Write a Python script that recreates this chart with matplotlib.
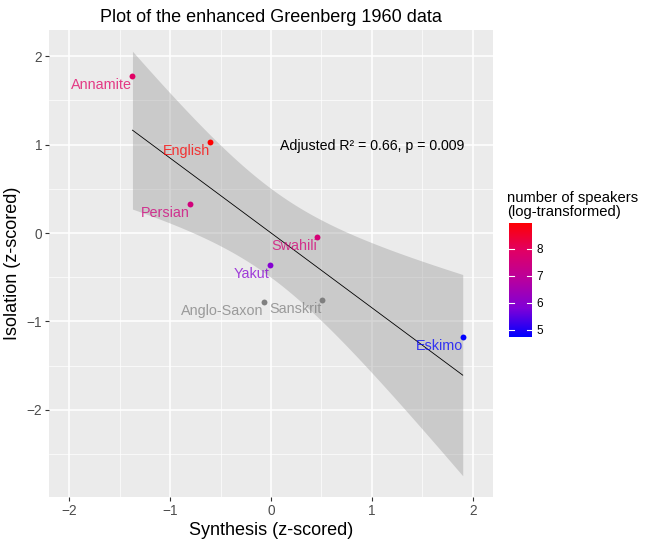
import matplotlib
matplotlib.use("Agg")
import matplotlib.pyplot as plt
import numpy as np
from matplotlib.colors import LinearSegmentedColormap, Normalize

plt.rcParams['font.family'] = ['Liberation Sans', 'DejaVu Sans']

# Data
languages = ['Annamite', 'English', 'Persian', 'Swahili', 'Yakut',
             'Anglo-Saxon', 'Sanskrit', 'Eskimo']
synthesis = np.array([-1.373, -0.607, -0.806, 0.458, -0.010, -0.070, 0.507, 1.900])
isolation = np.array([1.778, 1.030, 0.328, -0.045, -0.362, -0.780, -0.760, -1.178])
speakers_log = np.array([7.9, 8.95, 7.5, 7.6, 5.9, np.nan, np.nan, 4.74])

# blue -> red gradient (approx. Lab interpolation as in ggplot)
cmap = LinearSegmentedColormap.from_list(
    'bluered', [(0.0, '#0000FF'), (0.25, '#8000D8'), (0.5, '#B8009F'),
                (0.75, '#E10065'), (1.0, '#FF0000')])
vmin, vmax = np.nanmin(speakers_log), np.nanmax(speakers_log)
norm = Normalize(vmin, vmax)
na_color = '#7F7F7F'
colors = [na_color if np.isnan(v) else cmap(norm(v)) for v in speakers_log]

# linear fit with 95% confidence band
n = len(synthesis)
slope, intercept = np.polyfit(synthesis, isolation, 1)
resid = isolation - (intercept + slope * synthesis)
s = np.sqrt(np.sum(resid ** 2) / (n - 2))
sxx = np.sum((synthesis - synthesis.mean()) ** 2)
t_crit = 2.446912  # t(0.975, df=6)
xs = np.linspace(synthesis.min(), synthesis.max(), 80)
ys = intercept + slope * xs
half = t_crit * s * np.sqrt(1 / n + (xs - synthesis.mean()) ** 2 / sxx)

fig = plt.figure(figsize=(6.63, 5.46), dpi=100)
W, H = 663, 546
ax = fig.add_axes([49 / W, (H - 497) / H, (493 - 49) / W, (497 - 30) / H])
ax.set_facecolor('#EBEBEB')

ax.fill_between(xs, ys - half, ys + half, color='#999999', alpha=0.4, lw=0, zorder=2)
ax.plot(xs, ys, color='black', lw=0.6, zorder=3)

for x, y, c, lab in zip(synthesis, isolation, colors, languages):
    ax.scatter(x, y, s=18, color=c, zorder=4, lw=0)
    ax.annotate(lab, (x, y), xytext=(0, -1.5), textcoords='offset points',
                color=c, alpha=0.75, ha='right', va='top',
                fontsize=10.4, zorder=5)

ax.text(1.0, 0.98, 'Adjusted R² = 0.66, p = 0.009', ha='center', va='center',
        fontsize=10.2, color='black', zorder=5)

ax.set_xlim(-2.2, 2.2)
lo, hi = (ys - half).min(), (ys + half).max()
pad = 0.05 * (hi - lo)
ax.set_ylim(lo - pad, hi + pad)

ax.set_xticks([-2, -1, 0, 1, 2])
ax.set_yticks([-2, -1, 0, 1, 2])
ax.set_xticks([-1.5, -0.5, 0.5, 1.5], minor=True)
ax.set_yticks([-2.5, -1.5, -0.5, 0.5, 1.5], minor=True)
ax.grid(True, which='major', color='white', lw=1.1, zorder=0)
ax.grid(True, which='minor', color='white', lw=0.5, zorder=0)
ax.set_axisbelow(True)
for sp in ax.spines.values():
    sp.set_visible(False)
ax.tick_params(which='major', length=3, width=0.8, color='#333333',
               labelsize=9.8, labelcolor='#4D4D4D', pad=2)
ax.tick_params(which='minor', length=0)

ax.set_xlabel('Synthesis (z-scored)', fontsize=13, labelpad=3)
ax.set_ylabel('Isolation (z-scored)', fontsize=13, labelpad=4)
ax.set_title('Plot of the enhanced Greenberg 1960 data', fontsize=13, pad=6)

# colour bar legend
cax = fig.add_axes([509 / W, (H - 337) / H, (532 - 509) / W, (337 - 223) / H])
grad = np.linspace(vmin, vmax, 256).reshape(-1, 1)
cax.imshow(grad, cmap=cmap, norm=norm, aspect='auto', origin='lower',
           extent=[0, 1, vmin, vmax])
cax.set_xlim(0, 1)
cax.set_ylim(vmin, vmax)
cb_ticks = [5, 6, 7, 8]
for t in cb_ticks:
    cax.plot([0, 0.2], [t, t], color='white', lw=0.8)
    cax.plot([0.8, 1], [t, t], color='white', lw=0.8)
cax.set_xticks([])
cax.set_yticks(cb_ticks)
cax.yaxis.tick_right()
cax.tick_params(axis='y', length=0, labelsize=8.5, pad=3)
for sp in cax.spines.values():
    sp.set_visible(False)
fig.text(507 / W, 1 - 205 / H, 'number of speakers\n(log-transformed)',
         fontsize=10.6, ha='left', va='center', linespacing=0.95)

fig.savefig('out.png', dpi=100)
